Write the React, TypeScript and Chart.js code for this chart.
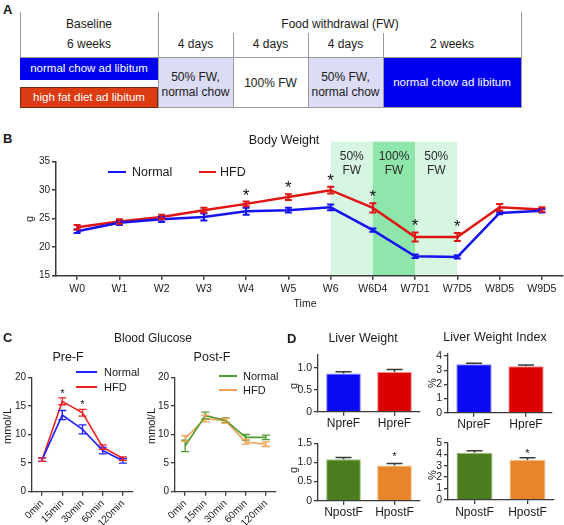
import React, { useEffect, useRef } from "react";
import { Chart, registerables } from "chart.js";
Chart.register(...registerables);

const FONT = "'Liberation Sans', Arial, Helvetica, sans-serif";
const AX = "#3a3a3a";
const TXT = "#1a1a1a";

// ---------- Panel B: body weight ----------
const bwLabels = ["W0", "W1", "W2", "W3", "W4", "W5", "W6", "W6D4", "W7D1", "W7D5", "W8D5", "W9D5"];
const bwNormal = [22.8, 24.3, 24.9, 25.3, 26.3, 26.5, 27.0, 23.0, 18.4, 18.3, 26.0, 26.4];
const bwNormalErr = [0.3, 0.4, 0.5, 0.6, 0.6, 0.4, 0.5, 0.3, 0.3, 0.3, 0.2, 0.3];
const bwHfd = [23.5, 24.5, 25.3, 26.5, 27.6, 28.8, 30.0, 26.9, 21.8, 21.8, 27.0, 26.6];
const bwHfdErr = [0.4, 0.4, 0.4, 0.4, 0.4, 0.5, 0.6, 0.8, 0.8, 0.7, 0.6, 0.4];
const bwStars = ["W4", "W5", "W6", "W6D4", "W7D1", "W7D5"];
const bwBandFrom = ["W6", "W6D4", "W7D1"];
const bwBandTo = ["W6D4", "W7D1", "W7D5"];
const bwBandText = [["50%", "FW"], ["100%", "FW"], ["50%", "FW"]];
const bwTicks = [15, 35, 5];

// ---------- Panel C: blood glucose ----------
const gtLabels = ["0min", "15min", "30min", "60min", "120min"];
const preNormal = [5.6, 13.4, 10.9, 7.2, 5.4];
const preNormalErr = [0.3, 0.8, 0.8, 0.6, 0.4];
const preHfd = [5.6, 15.8, 13.8, 7.8, 5.8];
const preHfdErr = [0.3, 0.6, 0.6, 0.4, 0.3];
const preStars = ["15min", "30min"];
const postNormal = [8.0, 13.3, 12.5, 9.5, 9.5];
const postNormalErr = [1.0, 0.6, 0.4, 0.5, 0.4];
const postHfd = [9.3, 12.8, 12.4, 8.7, 8.3];
const postHfdErr = [0.5, 0.6, 0.4, 0.4, 0.4];
const gtTicks = [0, 20, 5];

// ---------- Panel D: liver ----------
const lwPreLabels = ["NpreF", "HpreF"];
const lwPre = [0.87, 0.9];
const lwPreErr = [0.04, 0.06];
const lwPostLabels = ["NpostF", "HpostF"];
const lwPost = [1.08, 0.92];
const lwPostErr = [0.05, 0.05];
const lwPostStars = ["HpostF"];
const lwiPre = [3.43, 3.29];
const lwiPreErr = [0.06, 0.08];
const lwiPost = [4.13, 3.49];
const lwiPostErr = [0.17, 0.2];
const lwiPostStars = ["HpostF"];

// ---------- plugins ----------
const errorBarPlugin = {
  id: "errorBars",
  afterDatasetsDraw(chart: any, _a: any, opts: any) {
    const { ctx } = chart;
    const ys = chart.scales.y;
    chart.data.datasets.forEach((ds: any, di: number) => {
      if (!ds.errors) return;
      const meta = chart.getDatasetMeta(di);
      ctx.save();
      ctx.strokeStyle = ds.errorColor || ds.borderColor;
      ctx.lineWidth = ds.errorWidth || 1.5;
      const cw = ds.capWidth || 6;
      meta.data.forEach((el: any, i: number) => {
        const v = ds.data[i];
        const e = ds.errors[i];
        const x = el.x;
        const yt = ys.getPixelForValue(v + e);
        const yb = ys.getPixelForValue(ds.upOnly ? v : v - e);
        ctx.beginPath();
        ctx.moveTo(x, yt);
        ctx.lineTo(x, yb);
        ctx.moveTo(x - cw / 2, yt);
        ctx.lineTo(x + cw / 2, yt);
        if (!ds.upOnly) {
          ctx.moveTo(x - cw / 2, yb);
          ctx.lineTo(x + cw / 2, yb);
        }
        ctx.stroke();
      });
      ctx.restore();
    });
    const stars = opts && opts.stars;
    if (stars && stars.length) {
      const labels = chart.data.labels;
      ctx.save();
      ctx.fillStyle = opts.color || "#111";
      ctx.font = `${opts.size || 14}px ${FONT}`;
      ctx.textAlign = "center";
      ctx.textBaseline = "alphabetic";
      stars.forEach((lab: string) => {
        const i = labels.indexOf(lab);
        let top = Infinity;
        let x = 0;
        chart.data.datasets.forEach((ds: any, di: number) => {
          const el = chart.getDatasetMeta(di).data[i];
          x = el.x;
          const v = ds.data[i] + (ds.errors ? ds.errors[i] : 0);
          top = Math.min(top, ys.getPixelForValue(v));
        });
        ctx.fillText("*", x, top - (opts.gap || 0));
      });
      ctx.restore();
    }
  },
};

const bandPlugin = {
  id: "bands",
  beforeDraw(chart: any, _a: any, opts: any) {
    if (!opts || !opts.from) return;
    const { ctx, chartArea } = chart;
    const xs = chart.scales.x;
    const labels = chart.data.labels;
    opts.from.forEach((f: string, k: number) => {
      const x1 = xs.getPixelForValue(labels.indexOf(f));
      const x2 = xs.getPixelForValue(labels.indexOf(opts.to[k]));
      const top = chartArea.top - opts.extend;
      ctx.save();
      ctx.fillStyle = opts.colors[k];
      ctx.fillRect(x1, top, x2 - x1, chartArea.bottom - top);
      ctx.fillStyle = "#2a2a2a";
      ctx.font = `${opts.size}px ${FONT}`;
      ctx.textAlign = "center";
      ctx.textBaseline = "middle";
      const lines = opts.text[k];
      lines.forEach((ln: string, j: number) => {
        ctx.fillText(ln, (x1 + x2) / 2, chartArea.top + opts.textY[j]);
      });
      ctx.restore();
    });
  },
};

function scalesFor(o: any) {
  return {
    x: {
      type: "category",
      offset: true,
      grid: { display: true, drawOnChartArea: false, drawTicks: true, tickLength: 4, color: AX, lineWidth: o.lw, offset: false },
      border: { display: true, color: AX, width: o.lw },
      ticks: {
        color: TXT,
        font: { family: FONT, size: o.xFont },
        padding: o.xPad,
        autoSkip: false,
        maxRotation: o.rot || 0,
        minRotation: o.rot || 0,
      },
      afterFit: (s: any) => {
        s.height = o.xH;
      },
    },
    y: {
      type: "linear",
      min: o.min,
      max: o.max,
      grid: { display: true, drawOnChartArea: false, drawTicks: true, tickLength: 4, color: AX, lineWidth: o.lw },
      border: { display: true, color: AX, width: o.lw },
      ticks: {
        stepSize: o.step,
        includeBounds: false,
        autoSkip: false,
        color: TXT,
        font: { family: FONT, size: o.yFont },
        padding: 2,
      },
      afterFit: (s: any) => {
        s.width = o.yW;
      },
    },
  };
}

function baseOptions(o: any, plugins: any) {
  return {
    responsive: false,
    maintainAspectRatio: false,
    animation: false,
    layout: { padding: { left: 0, right: o.padR, top: o.padT, bottom: 0 } },
    plugins: Object.assign({ legend: { display: false }, tooltip: { enabled: false }, title: { display: false } }, plugins),
    scales: scalesFor(o),
  };
}

function lineDs(data: number[], errors: number[], color: string, lw: number, elw: number, cap: number) {
  return {
    data,
    errors,
    borderColor: color,
    backgroundColor: color,
    borderWidth: lw,
    pointRadius: 0,
    tension: 0,
    fill: false,
    errorWidth: elw,
    capWidth: cap,
  };
}

function barConfig(labels: string[], values: number[], errors: number[], colors: string[], borders: string[], o: any, stars: string[]) {
  return {
    type: "bar",
    data: {
      labels,
      datasets: [
        {
          data: values,
          errors,
          upOnly: true,
          errorColor: "#3a3a3a",
          errorWidth: 1.5,
          capWidth: 16,
          backgroundColor: colors,
          borderColor: borders,
          borderWidth: 1,
          categoryPercentage: 1,
          barPercentage: 0.68,
        },
      ],
    },
    options: baseOptions(o, { errorBars: { stars, size: 11, gap: o.starGap } }),
    plugins: [errorBarPlugin],
  };
}

function ChartCanvas({ x, y, w, h, make }: any) {
  const ref = useRef<HTMLCanvasElement>(null);
  useEffect(() => {
    const chart = new Chart(ref.current as HTMLCanvasElement, make());
    return () => chart.destroy();
  }, []);
  return <canvas ref={ref} width={w} height={h} style={{ position: "absolute", left: x, top: y, width: w, height: h }} />;
}

function T({ x, y, s = 12, c = TXT, b = false, a = "center", r = 0, children }: any) {
  const tx = a === "center" ? "-50%" : a === "left" ? "0" : "-100%";
  return (
    <div
      style={{
        position: "absolute",
        left: x,
        top: y,
        transform: `translate(${tx},-50%) rotate(${r}deg)`,
        fontSize: s,
        fontWeight: b ? 700 : 400,
        color: c,
        whiteSpace: "nowrap",
        fontFamily: FONT,
        lineHeight: 1,
      }}
    >
      {children}
    </div>
  );
}

function Box({ x, y, w, h, bg, border }: any) {
  return (
    <div
      style={{
        position: "absolute",
        left: x,
        top: y,
        width: w,
        height: h,
        background: bg,
        boxSizing: "border-box",
        border: border || "none",
      }}
    />
  );
}

function LegLine({ x1, x2, y, c, t = 2 }: any) {
  return <div style={{ position: "absolute", left: x1, top: y - t / 2, width: x2 - x1, height: t, background: c }} />;
}

const BLUE = "#1414f0";
const RED = "#e01414";

export default function App() {
  const lineGray = "#9a9a9a";
  return (
    <div style={{ position: "absolute", left: 0, top: 0, width: 564, height: 525, background: "#fff", overflow: "hidden", fontFamily: FONT }}>
      {/* ---------- Panel A ---------- */}
      <T x={3} y={9} s={13} b a="left">A</T>
      <Box x={158} y={57} w={75} h={51} bg="#dcdcf6" />
      <Box x={308} y={57} w={75} h={51} bg="#dcdcf6" />
      <Box x={383} y={57} w={138} h={51} bg="#0000f0" />
      <Box x={20} y={58} w={138} h={22} bg="#0000f0" />
      <Box x={20} y={87} w={138} h={21} bg="#dd3c12" border="1px solid #7a2a10" />
      <Box x={20} y={12} w={1} h={45} bg={lineGray} />
      <Box x={158} y={12} w={1} h={96} bg={lineGray} />
      <Box x={233} y={33} w={1} h={75} bg={lineGray} />
      <Box x={308} y={33} w={1} h={75} bg={lineGray} />
      <Box x={383} y={33} w={1} h={75} bg={lineGray} />
      <Box x={521} y={12} w={1} h={96} bg={lineGray} />
      <Box x={20} y={57} w={501} h={1} bg={lineGray} />
      <Box x={158} y={107} w={363} h={1} bg={lineGray} />
      <T x={89} y={24} s={12}>Baseline</T>
      <T x={89} y={44} s={12}>6 weeks</T>
      <T x={340} y={24} s={12}>Food withdrawal (FW)</T>
      <T x={195.5} y={44} s={12}>4 days</T>
      <T x={270.5} y={44} s={12}>4 days</T>
      <T x={345.5} y={44} s={12}>4 days</T>
      <T x={452} y={44} s={12}>2 weeks</T>
      <T x={89} y={69} s={11.5} c="#fff">normal chow ad libitum</T>
      <T x={89} y={98} s={11.5} c="#fff">high fat diet ad libitum</T>
      <T x={195.5} y={77} s={12}>50% FW,</T>
      <T x={195.5} y={92} s={12}>normal chow</T>
      <T x={270.5} y={83} s={12}>100% FW</T>
      <T x={345.5} y={77} s={12}>50% FW,</T>
      <T x={345.5} y={92} s={12}>normal chow</T>
      <T x={452} y={83} s={11.5} c="#fff">normal chow ad libitum</T>

      {/* ---------- Panel B ---------- */}
      <T x={3} y={138} s={13} b a="left">B</T>
      <ChartCanvas
        x={0}
        y={130}
        w={564}
        h={185}
        make={() => ({
          type: "line",
          data: {
            labels: bwLabels,
            datasets: [
              lineDs(bwNormal, bwNormalErr, BLUE, 2.5, 2, 7),
              lineDs(bwHfd, bwHfdErr, RED, 2.5, 2, 7),
            ],
          },
          options: baseOptions(
            { lw: 1.5, xFont: 10.5, yFont: 10, xPad: 3, min: bwTicks[0], max: bwTicks[1], step: bwTicks[2], xH: 39.3, yW: 56, padT: 31.7, padR: 1 },
            {
              errorBars: { stars: bwStars, size: 17, gap: 1 },
              bands: {
                from: bwBandFrom,
                to: bwBandTo,
                text: bwBandText,
                colors: ["#d6f6e1", "#8fe6ab", "#d6f6e1"],
                extend: 20,
                size: 12,
                textY: [-4.7, 8.5],
              },
            }
          ),
          plugins: [bandPlugin, errorBarPlugin],
        })}
      />
      <T x={284} y={140} s={12.5}>Body Weight</T>
      <LegLine x1={108} x2={126} y={172} c={BLUE} t={2.5} />
      <T x={132} y={172} s={12.5} a="left">Normal</T>
      <LegLine x1={199} x2={216} y={172} c={RED} t={2.5} />
      <T x={220} y={172} s={12.5} a="left">HFD</T>
      <T x={29} y={219} s={11} r={-90}>g</T>
      <T x={305} y={303} s={10.5}>Time</T>

      {/* ---------- Panel C ---------- */}
      <T x={3} y={337} s={13} b a="left">C</T>
      <T x={153} y={338} s={12}>Blood Glucose</T>
      <T x={68} y={357} s={12.5}>Pre-F</T>
      <T x={212} y={357} s={12.5}>Post-F</T>
      <ChartCanvas
        x={0}
        y={330}
        w={145}
        h={195}
        make={() => ({
          type: "line",
          data: {
            labels: gtLabels,
            datasets: [
              lineDs(preNormal, preNormalErr, "#2222ff", 1.6, 1.3, 8),
              lineDs(preHfd, preHfdErr, "#ee2020", 1.6, 1.3, 8),
            ],
          },
          options: baseOptions(
            { lw: 1.3, xFont: 10, yFont: 10, xPad: 2, rot: 45, min: gtTicks[0], max: gtTicks[1], step: gtTicks[2], xH: 33.3, yW: 32, padT: 47.3, padR: 12 },
            { errorBars: { stars: preStars, size: 11, gap: 1 } }
          ),
          plugins: [errorBarPlugin],
        })}
      />
      <ChartCanvas
        x={143}
        y={330}
        w={140}
        h={195}
        make={() => ({
          type: "line",
          data: {
            labels: gtLabels,
            datasets: [
              lineDs(postNormal, postNormalErr, "#4f9a2c", 1.6, 1.3, 8),
              lineDs(postHfd, postHfdErr, "#f0a050", 1.6, 1.3, 8),
            ],
          },
          options: baseOptions(
            { lw: 1.3, xFont: 10, yFont: 10, xPad: 2, rot: 45, min: gtTicks[0], max: gtTicks[1], step: gtTicks[2], xH: 33.3, yW: 32, padT: 47.3, padR: 7 },
            {}
          ),
          plugins: [errorBarPlugin],
        })}
      />
      <T x={7} y={426} s={11} r={-90}>mmol/L</T>
      <T x={151} y={426} s={11} r={-90}>mmol/L</T>
      <LegLine x1={76} x2={97} y={372} c="#2222ff" t={1.6} />
      <T x={104} y={372} s={11} a="left">Normal</T>
      <LegLine x1={76} x2={97} y={387} c="#ee2020" t={1.6} />
      <T x={104} y={387} s={11} a="left">HFD</T>
      <LegLine x1={219} x2={237} y={376} c="#4f9a2c" t={1.6} />
      <T x={243} y={376} s={11} a="left">Normal</T>
      <LegLine x1={219} x2={237} y={390} c="#f0a050" t={1.6} />
      <T x={243} y={390} s={11} a="left">HFD</T>

      {/* ---------- Panel D ---------- */}
      <T x={287} y={338} s={13} b a="left">D</T>
      <T x={363} y={338} s={12.5}>Liver Weight</T>
      <T x={495} y={337} s={12.5}>Liver Weight Index</T>
      <ChartCanvas
        x={285}
        y={342}
        w={140}
        h={88}
        make={() =>
          barConfig(lwPreLabels, lwPre, lwPreErr, ["#0a0af5", "#dc0000"], ["#8a8aff", "#ff8a8a"],
            { lw: 1.3, xFont: 12, yFont: 10.5, xPad: 1, min: 0, max: 1.3, step: 0.5, xH: 18.3, yW: 33, padT: 12.5, padR: 5, starGap: 4 }, [])
        }
      />
      <ChartCanvas
        x={415}
        y={342}
        w={145}
        h={88}
        make={() =>
          barConfig(lwPreLabels, lwiPre, lwiPreErr, ["#0a0af5", "#dc0000"], ["#8a8aff", "#ff8a8a"],
            { lw: 1.3, xFont: 12, yFont: 10.5, xPad: 1, min: 0, max: 4.2, step: 1, xH: 17.3, yW: 33, padT: 11.3, padR: 8, starGap: 1 }, [])
        }
      />
      <ChartCanvas
        x={285}
        y={430}
        w={140}
        h={95}
        make={() =>
          barConfig(lwPostLabels, lwPost, lwPostErr, ["#4b7d1f", "#e8842a"], ["#9ac27a", "#f5bd85"],
            { lw: 1.3, xFont: 12, yFont: 10.5, xPad: 1, min: 0, max: 1.5, step: 0.5, xH: 24.3, yW: 33, padT: 13.3, padR: 5, starGap: 4 }, lwPostStars)
        }
      />
      <ChartCanvas
        x={415}
        y={430}
        w={145}
        h={95}
        make={() =>
          barConfig(lwPostLabels, lwiPost, lwiPostErr, ["#4b7d1f", "#e8842a"], ["#9ac27a", "#f5bd85"],
            { lw: 1.3, xFont: 12, yFont: 10.5, xPad: 1, min: 0, max: 5, step: 1, xH: 25, yW: 33, padT: 12.7, padR: 6, starGap: 1 }, lwiPostStars)
        }
      />
      <T x={293} y={386} s={11} r={-90}>g</T>
      <T x={293} y={470} s={11} r={-90}>g</T>
      <T x={432} y={383} s={11} r={-90}>%</T>
      <T x={432} y={475} s={11} r={-90}>%</T>
    </div>
  );
}
